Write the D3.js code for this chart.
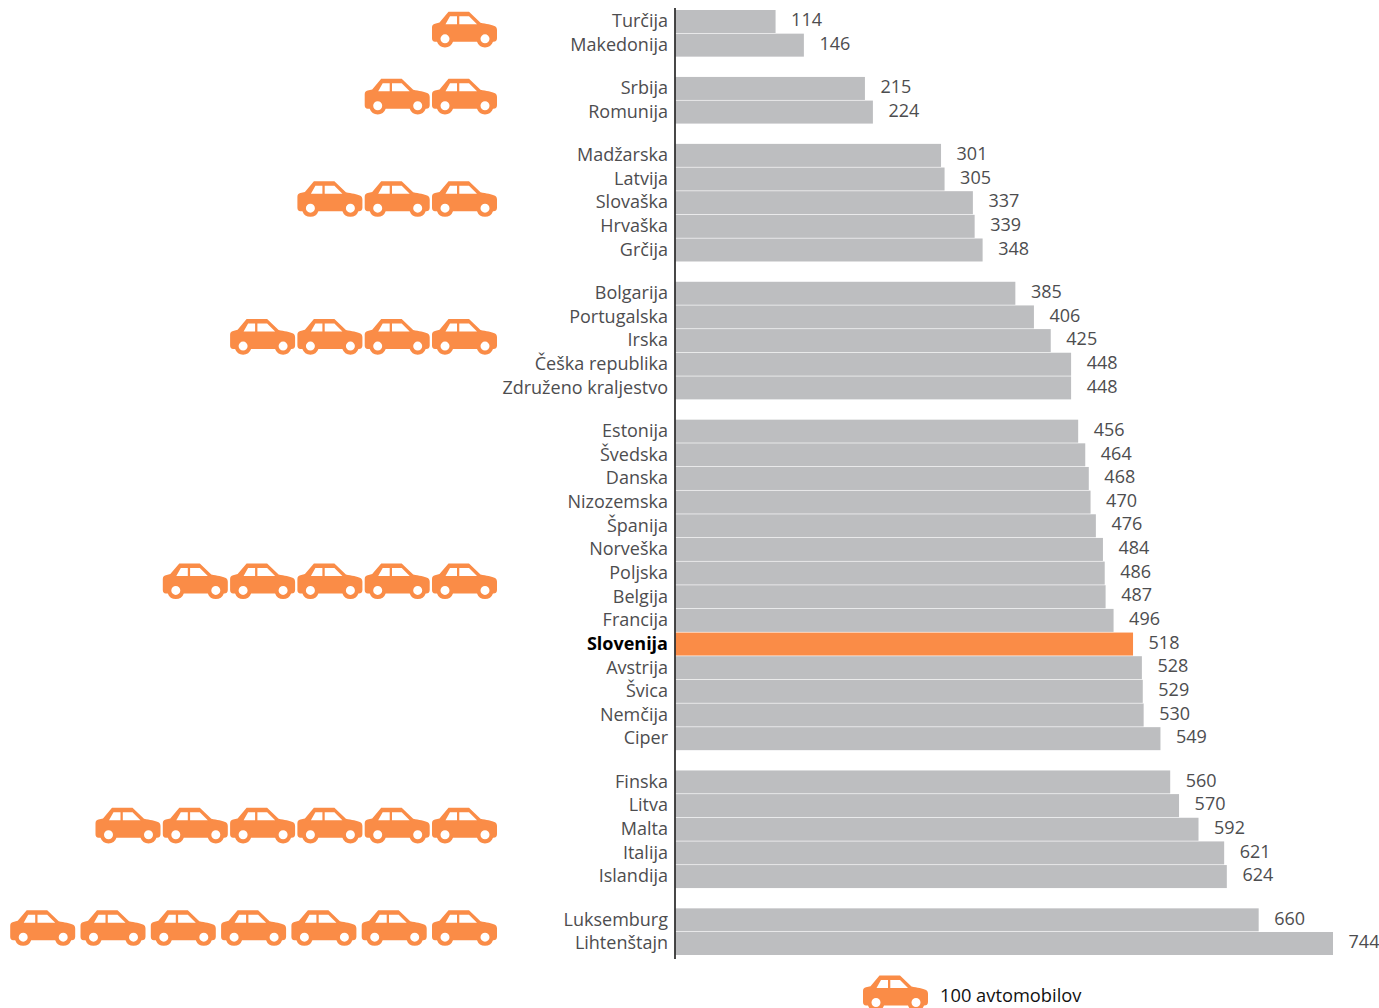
<!DOCTYPE html>
<html><head><meta charset="utf-8">
<script src="https://cdn.jsdelivr.net/npm/d3@7/dist/d3.min.js"></script>
<style>html,body{margin:0;padding:0;background:#fff;overflow:hidden}svg{display:block}text{font-family:"Open Sans",sans-serif}</style>
</head><body><svg id="c" width="1379" height="1008"></svg>
<script>
const countries=["Turčija","Makedonija","Srbija","Romunija","Madžarska","Latvija","Slovaška","Hrvaška","Grčija","Bolgarija","Portugalska","Irska","Češka republika","Združeno kraljestvo","Estonija","Švedska","Danska","Nizozemska","Španija","Norveška","Poljska","Belgija","Francija","Slovenija","Avstrija","Švica","Nemčija","Ciper","Finska","Litva","Malta","Italija","Islandija","Luksemburg","Lihtenštajn"];
const values=[114,146,215,224,301,305,337,339,348,385,406,425,448,448,456,464,468,470,476,484,486,487,496,518,528,529,530,549,560,570,592,621,624,660,744];
const groupSizes=[2,2,5,5,14,5,2];
const carsPerGroup=[1,2,3,4,5,6,7];
const highlight="Slovenija";
const legendLabel="100 avtomobilov";
const GREY="#bdbec0",ORANGE="#fa8c47",TXT="#4d4d4f";

const svg=d3.select("#c");
const x=d3.scaleLinear().domain([0,744]).range([674.7,1333]);
const groupOf=[];groupSizes.forEach((n,g)=>{for(let i=0;i<n;i++)groupOf.push(g)});
const gapUnits=0.83;
const slot=countries.map((c,i)=>i+groupOf[i]*gapUnits);
const y=d3.scaleLinear().domain([0,d3.max(slot)]).range([10,932]);
const barH=23;

const rows=countries.map((c,i)=>({c,v:values[i],s:slot[i]}));
svg.append("g").selectAll("rect").data(rows).join("rect")
  .attr("x",675.5).attr("y",d=>y(d.s)).attr("width",d=>x(d.v)-675.5).attr("height",barH)
  .attr("fill",d=>d.c===highlight?ORANGE:GREY);
svg.append("line").attr("x1",675).attr("x2",675).attr("y1",8).attr("y2",959).attr("stroke","#1a1a1a").attr("stroke-width",1.6);
svg.append("g").selectAll("text").data(rows).join("text")
  .attr("x",668).attr("y",d=>y(d.s)+17.3).attr("text-anchor","end")
  .attr("font-size",18).attr("font-weight",d=>d.c===highlight?700:400)
  .attr("fill",d=>d.c===highlight?"#000":TXT).text(d=>d.c);
svg.append("g").selectAll("text").data(rows).join("text")
  .attr("x",d=>x(d.v)+31).attr("y",d=>y(d.s)+16.2).attr("text-anchor","middle")
  .attr("font-size",18).attr("fill",TXT).text(d=>d.v);

const carBody="M16.5 0.5H37L48.5 11.5C54 12.5 60 13.5 63 15C64.6 16 65 17.5 65 19V27C65 29.5 63.5 30.5 61.5 30.5H61A8.5 8.5 0 0 1 45 30.5H21A8.5 8.5 0 0 1 5 30.5H3C1 30.5 0 29 0 27V16C0 14 1 12.8 3 12.3L7.5 11.2Z"
 +"M18 5L13.5 13H25V5ZM27.3 5V13H45L37 5ZM13 23A4.5 4.5 0 1 0 13 32A4.5 4.5 0 1 0 13 23ZM53 23A4.5 4.5 0 1 0 53 32A4.5 4.5 0 1 0 53 23Z";
function car(x0,y0){svg.append("path").attr("transform",`translate(${x0},${y0})`).attr("d",carBody).attr("fill",ORANGE).attr("fill-rule","evenodd");}
let start=0;
groupSizes.forEach((n,g)=>{
  const top=y(slot[start]),bot=y(slot[start+n-1])+barH;
  const cy=(top+bot)/2-22;
  const step=g===6?70.3:67.3;
  d3.range(carsPerGroup[g]).forEach(k=>car(432-k*step,cy));
  start+=n;
});
car(863,975);
svg.append("text").attr("x",940).attr("y",1002).attr("font-size",18.3).attr("fill","#111").text(legendLabel);
</script></body></html>
